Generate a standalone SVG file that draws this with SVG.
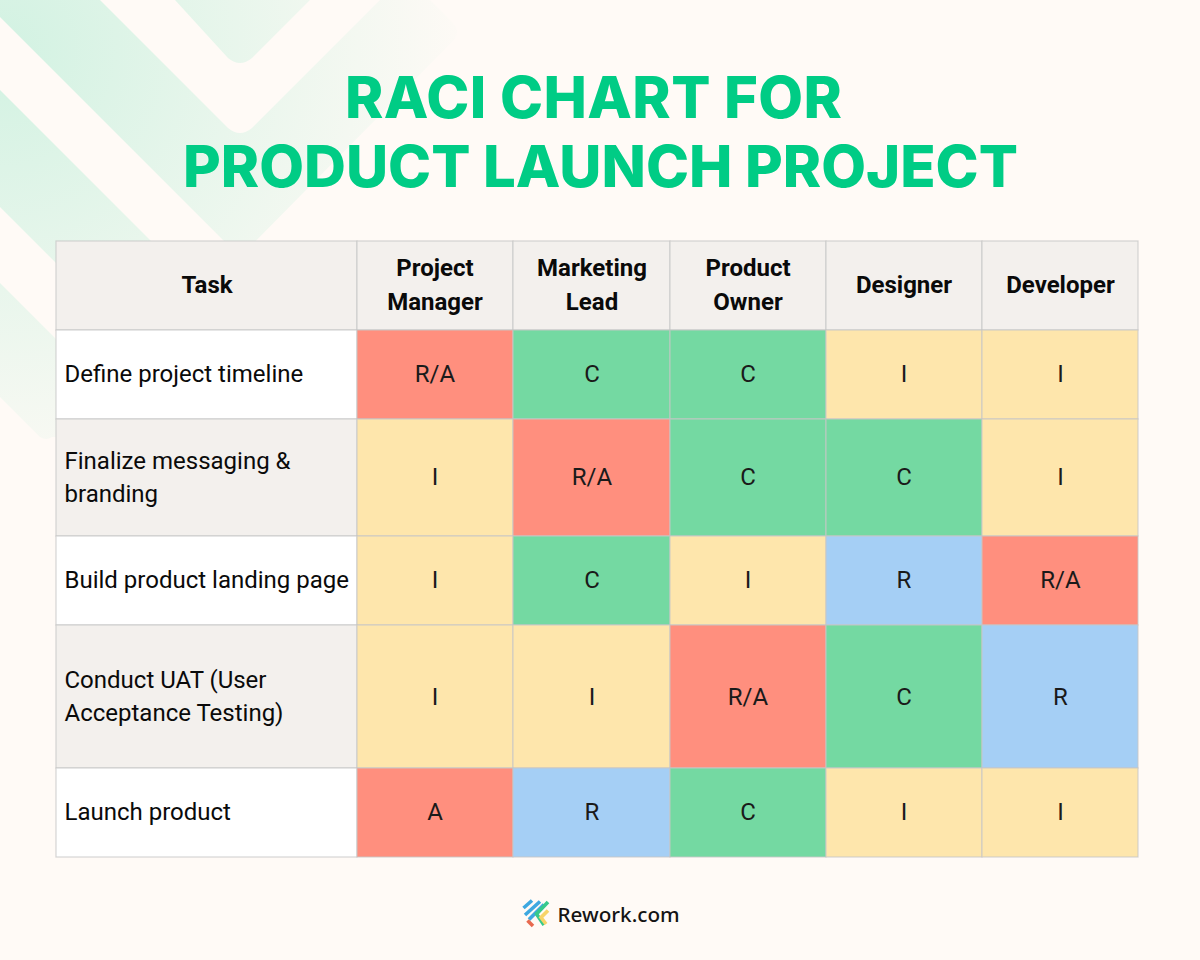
<svg xmlns="http://www.w3.org/2000/svg" width="1200" height="960" viewBox="0 0 1200 960">
<style>
.title{font-family:"Inter","Liberation Sans",sans-serif;font-weight:800;font-size:58px;fill:#00cc85;text-anchor:middle}
.h{font-family:"Roboto","Liberation Sans",sans-serif;font-weight:700;font-size:24px;fill:#0a0a0a;text-anchor:middle}
.t{font-family:"Roboto","Liberation Sans",sans-serif;font-size:24px;fill:#0a0a0a}
.v{font-family:"Roboto","Liberation Sans",sans-serif;font-size:24px;fill:#1a1a1a;text-anchor:middle}
.c{stroke:#c6c6c6;stroke-opacity:.75;stroke-width:1.2}
.hd{fill:#f3f0ed}.w{fill:#fff}.g{fill:#f3f0ed}
.ra{fill:#ff8f7e}.cc{fill:#74d9a2}.ii{fill:#fee6ac}.rr{fill:#a5cff5}
.logo{font-family:"Noto Sans","Open Sans",sans-serif;font-weight:500;font-size:20.7px;fill:#141414}
</style>
<defs>
<radialGradient id="bg" gradientUnits="userSpaceOnUse" cx="0" cy="50" r="500">
<stop offset="0" stop-color="#d2f2e2"/><stop offset="0.95" stop-color="#fffaf6"/>
</radialGradient>
</defs>
<rect width="1200" height="960" fill="#fffaf6"/>
<g id="background" fill="url(#bg)">
<path d="M175 0L228 58Q240 68 252 58L310 0Z"/>
<path d="M0 0H100L228 128Q240 138 252 128L380 0H430L452 22Q462 32 452 42L240 257L0 17Z"/>
<path d="M0 90L160 250L60 267L0 207Z"/>
<path d="M0 283L60 343V437H52Q46 441 40 437L0 397Z"/>
</g>
<text class="title" x="593.5" y="118" textLength="497" lengthAdjust="spacing">RACI CHART FOR</text>
<text class="title" x="600.5" y="187" textLength="835" lengthAdjust="spacing">PRODUCT LAUNCH PROJECT</text>
<g id="connectors"></g>
<g id="header">
<rect class="hd c" x="56" y="241" width="301" height="89"/><text class="h" x="207" y="293">Task</text>
<rect class="hd c" x="357" y="241" width="156" height="89"/><text class="h" x="435" y="276">Project</text><text class="h" x="435" y="310">Manager</text>
<rect class="hd c" x="513" y="241" width="157" height="89"/><text class="h" x="592" y="276">Marketing</text><text class="h" x="592" y="310">Lead</text>
<rect class="hd c" x="670" y="241" width="156" height="89"/><text class="h" x="748" y="276">Product</text><text class="h" x="748" y="310">Owner</text>
<rect class="hd c" x="826" y="241" width="156" height="89"/><text class="h" x="904" y="293">Designer</text>
<rect class="hd c" x="982" y="241" width="156" height="89"/><text class="h" x="1060.5" y="293">Developer</text>
</g>
<g id="row1">
<rect class="w c" x="56" y="330" width="301" height="89"/><text class="t" x="64.5" y="382">Define project timeline</text>
<rect class="ra c" x="357" y="330" width="156" height="89"/><text class="v" x="435" y="382">R/A</text>
<rect class="cc c" x="513" y="330" width="157" height="89"/><text class="v" x="592" y="382">C</text>
<rect class="cc c" x="670" y="330" width="156" height="89"/><text class="v" x="748" y="382">C</text>
<rect class="ii c" x="826" y="330" width="156" height="89"/><text class="v" x="904" y="382">I</text>
<rect class="ii c" x="982" y="330" width="156" height="89"/><text class="v" x="1060.5" y="382">I</text>
</g>
<g id="row2">
<rect class="g c" x="56" y="419" width="301" height="117"/><text class="t" x="64.5" y="469">Finalize messaging &amp;</text><text class="t" x="64.5" y="502">branding</text>
<rect class="ii c" x="357" y="419" width="156" height="117"/><text class="v" x="435" y="485">I</text>
<rect class="ra c" x="513" y="419" width="157" height="117"/><text class="v" x="592" y="485">R/A</text>
<rect class="cc c" x="670" y="419" width="156" height="117"/><text class="v" x="748" y="485">C</text>
<rect class="cc c" x="826" y="419" width="156" height="117"/><text class="v" x="904" y="485">C</text>
<rect class="ii c" x="982" y="419" width="156" height="117"/><text class="v" x="1060.5" y="485">I</text>
</g>
<g id="row3">
<rect class="w c" x="56" y="536" width="301" height="89"/><text class="t" x="64.5" y="588">Build product landing page</text>
<rect class="ii c" x="357" y="536" width="156" height="89"/><text class="v" x="435" y="588">I</text>
<rect class="cc c" x="513" y="536" width="157" height="89"/><text class="v" x="592" y="588">C</text>
<rect class="ii c" x="670" y="536" width="156" height="89"/><text class="v" x="748" y="588">I</text>
<rect class="rr c" x="826" y="536" width="156" height="89"/><text class="v" x="904" y="588">R</text>
<rect class="ra c" x="982" y="536" width="156" height="89"/><text class="v" x="1060.5" y="588">R/A</text>
</g>
<g id="row4">
<rect class="g c" x="56" y="625" width="301" height="143"/><text class="t" x="64.5" y="688">Conduct UAT (User</text><text class="t" x="64.5" y="721">Acceptance Testing)</text>
<rect class="ii c" x="357" y="625" width="156" height="143"/><text class="v" x="435" y="705">I</text>
<rect class="ii c" x="513" y="625" width="157" height="143"/><text class="v" x="592" y="705">I</text>
<rect class="ra c" x="670" y="625" width="156" height="143"/><text class="v" x="748" y="705">R/A</text>
<rect class="cc c" x="826" y="625" width="156" height="143"/><text class="v" x="904" y="705">C</text>
<rect class="rr c" x="982" y="625" width="156" height="143"/><text class="v" x="1060.5" y="705">R</text>
</g>
<g id="row5">
<rect class="w c" x="56" y="768" width="301" height="89"/><text class="t" x="64.5" y="820">Launch product</text>
<rect class="ra c" x="357" y="768" width="156" height="89"/><text class="v" x="435" y="820">A</text>
<rect class="rr c" x="513" y="768" width="157" height="89"/><text class="v" x="592" y="820">R</text>
<rect class="cc c" x="670" y="768" width="156" height="89"/><text class="v" x="748" y="820">C</text>
<rect class="ii c" x="826" y="768" width="156" height="89"/><text class="v" x="904" y="820">I</text>
<rect class="ii c" x="982" y="768" width="156" height="89"/><text class="v" x="1060.5" y="820">I</text>
</g>
<g id="logo" fill="none" stroke-width="3.6">
<path d="M523.5 908L532 900.5M525 915L540 901.5M529 919.5L544 904.5" stroke="#3ea8e0"/>
<path d="M548 902L536.5 914L544 925" stroke="#37c98c"/>
<path d="M548 910.5L541 917.5L546 924" stroke="#f7d46a"/>
<path d="M527.5 920.5L533 926" stroke="#e8694f"/>
<text class="logo" x="557.5" y="921.5" stroke="none">Rework.com</text>
</g>
</svg>
